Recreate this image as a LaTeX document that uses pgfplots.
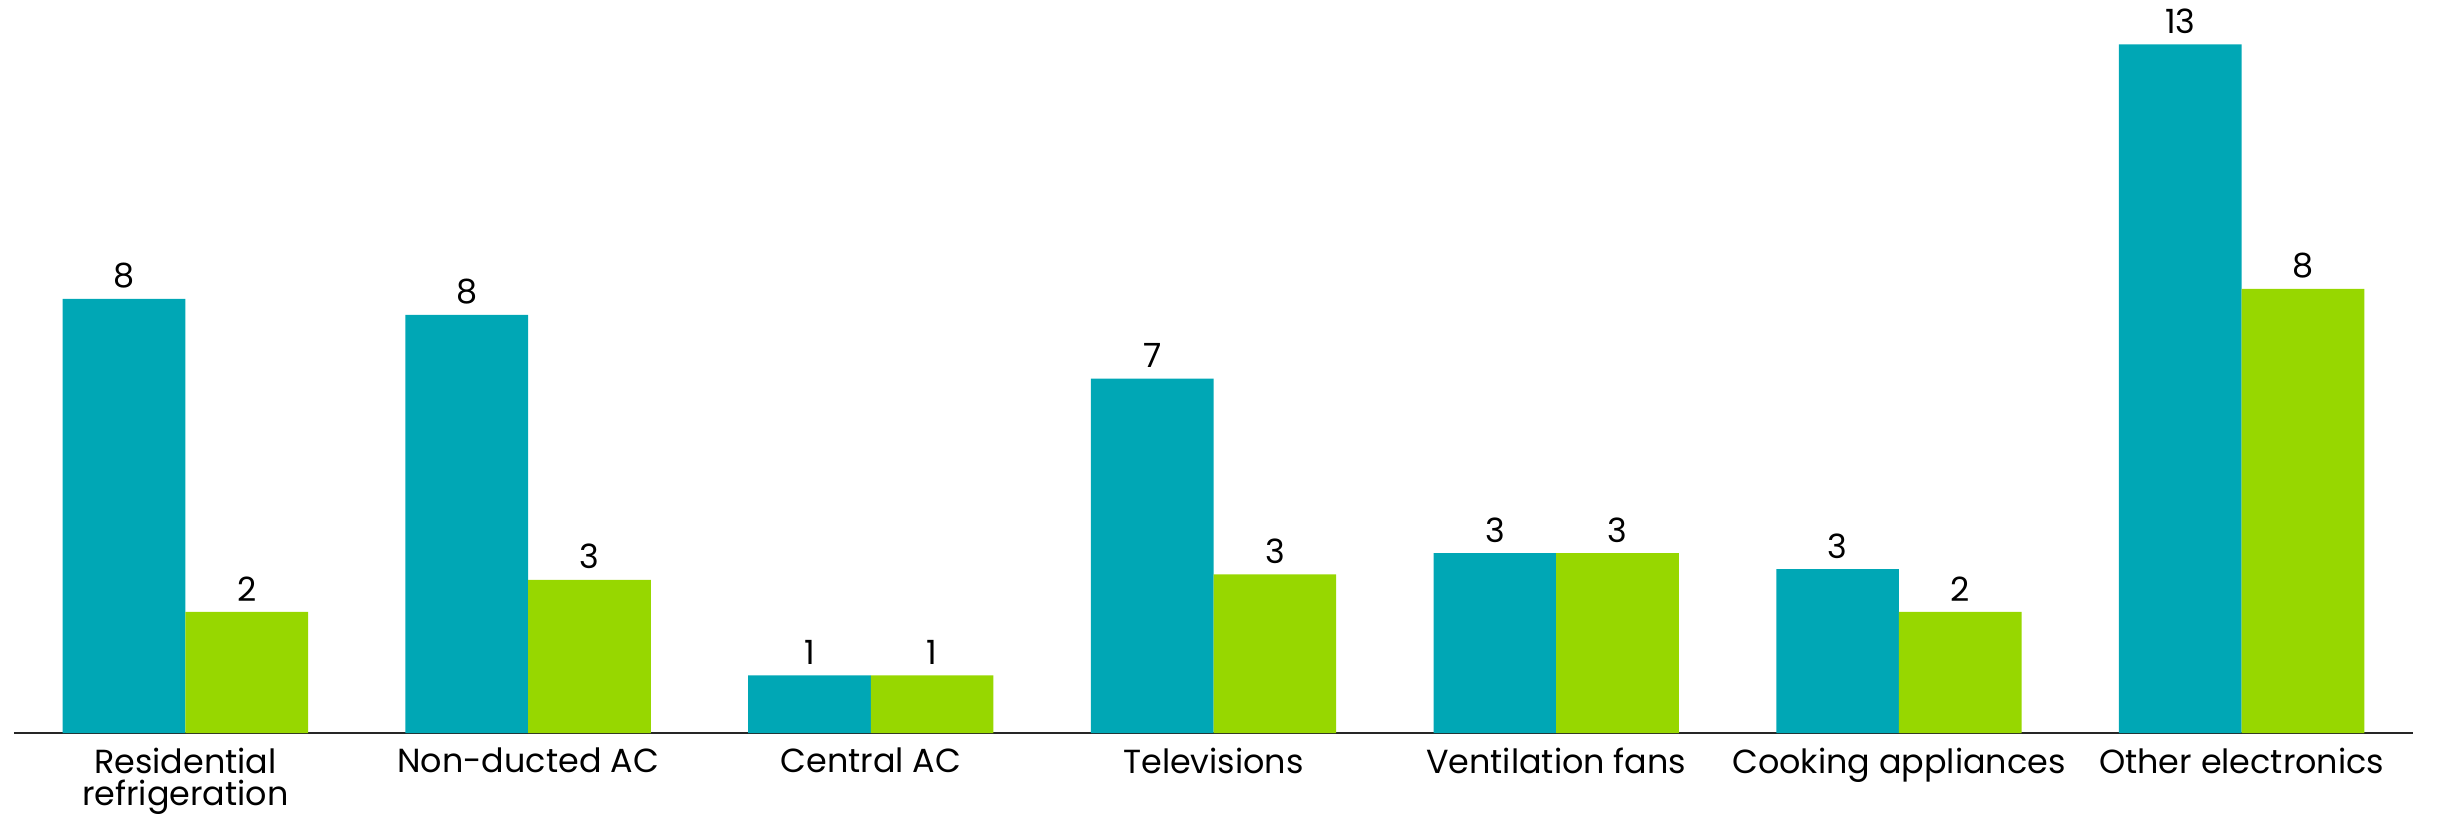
\documentclass[border=0pt]{standalone}
\usepackage{pgfplots}
\pgfplotsset{compat=1.18}
\usepackage{fontspec}
\setmainfont{Poppins}
\definecolor{tealbar}{RGB}{0,167,181}
\definecolor{greenbar}{RGB}{151,215,0}
\begin{document}
\begin{tikzpicture}
\useasboundingbox (-0.14,-0.80) rectangle (24.23,7.33);
\begin{axis}[
  at={(0,0)}, anchor=south west,
  scale only axis, width=23.99cm, height=7.33cm,
  ymin=0, ymax=13.73, xmin=-0.5, xmax=6.5,
  ybar=0pt, bar width=1.227cm,
  axis x line=bottom, axis y line=none,
  x axis line style={-, line width=0.015cm, color=black!85},
  xtick={0,1,2,3,4,5,6},
  xticklabels={{Residential\\refrigeration},{Non-ducted AC},{Central AC},{Televisions},{Ventilation fans},{Cooking appliances},{Other electronics}},
  major tick length=0pt,
  ytick=\empty,
  xticklabel style={font=\fontsize{9.5}{9.2}\selectfont, align=center, anchor=north, inner sep=0pt, yshift=-0.14cm, text=black},
  /pgf/number format/assume math mode=true,
  nodes near coords={\pgfmathprintnumber[fixed,precision=0]{\pgfplotspointmeta}},
  every node near coord/.append style={font=\fontsize{9.5}{11}\selectfont, text=black, inner sep=0pt, yshift=0.10cm, anchor=south},
  clip=false,
]
\addplot[fill=tealbar, draw=none] coordinates {(0,8.13) (1,7.83) (2,1.08) (3,6.64) (4,3.37) (5,3.07) (6,12.90)};
\addplot[fill=greenbar, draw=none] coordinates {(0,2.27) (1,2.87) (2,1.08) (3,2.97) (4,3.37) (5,2.27) (6,8.32)};
\end{axis}
\end{tikzpicture}
\end{document}
